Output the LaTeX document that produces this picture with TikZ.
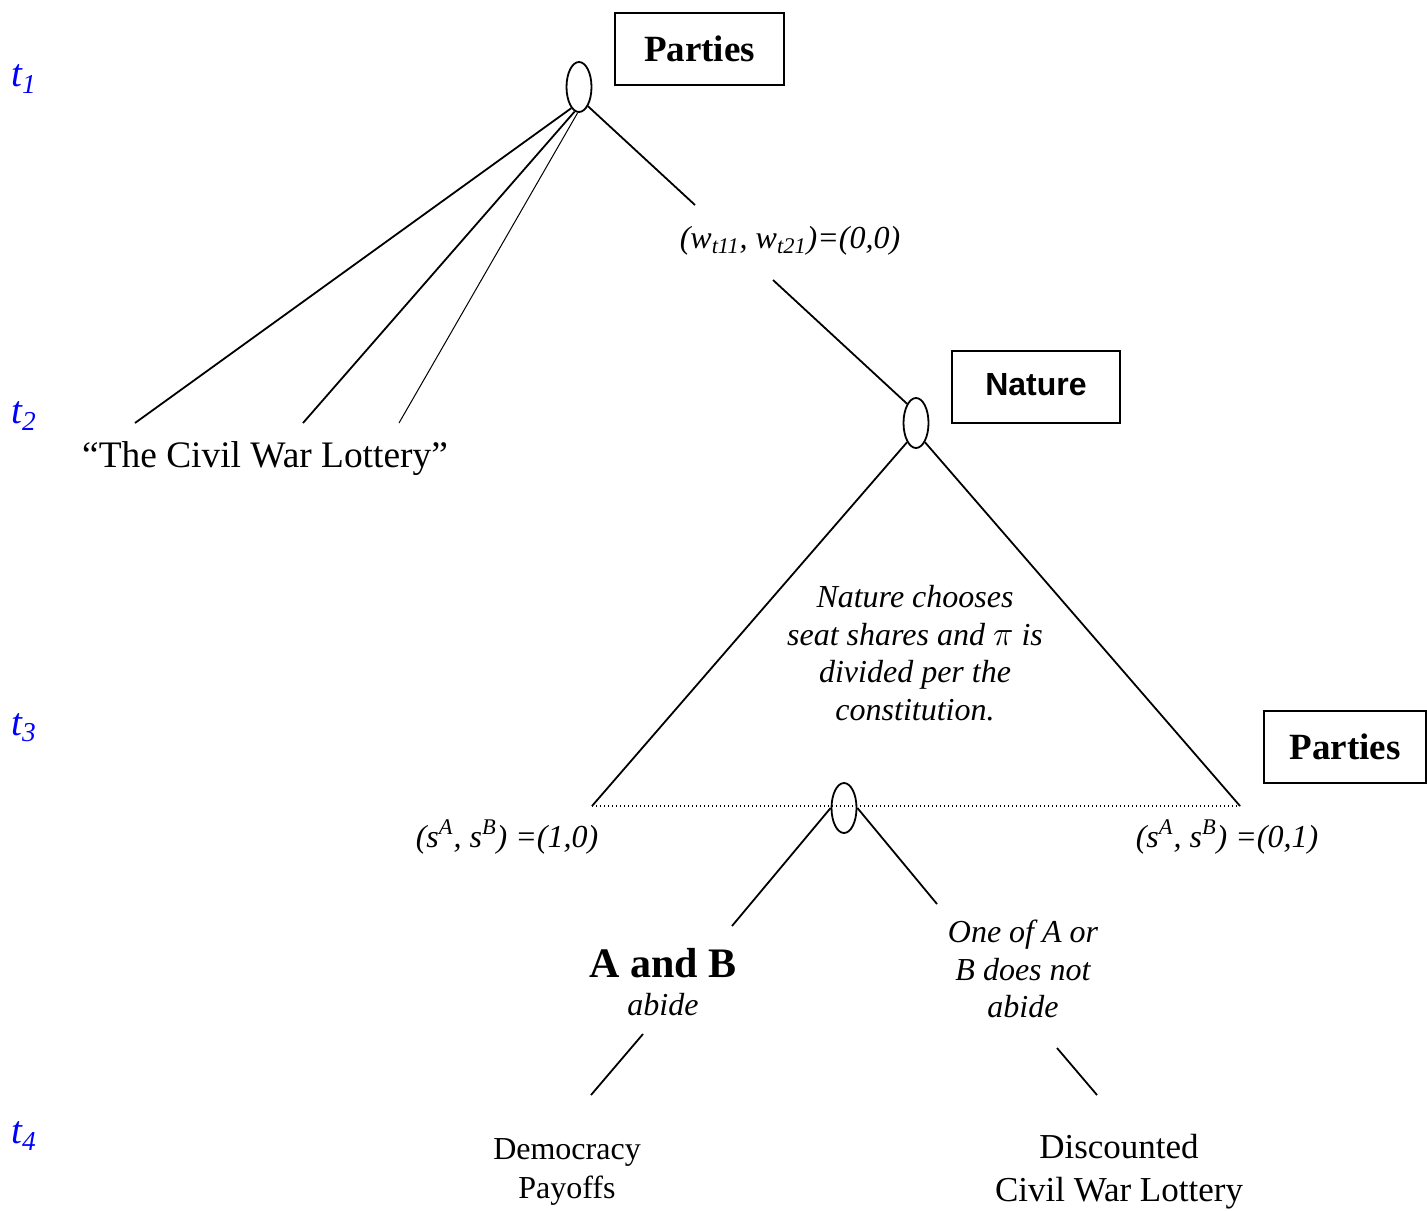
\documentclass[tikz,border=0pt]{standalone}
\usepackage{fontspec}
\setmainfont{Liberation Serif}
\newfontfamily\arialfont{Liberation Sans}
\usetikzlibrary{shapes.geometric}

\newcommand{\partyfont}{\fontsize{18.5}{22}\selectfont\bfseries}
\newcommand{\naturefont}{\arialfont\fontsize{16}{19}\selectfont\bfseries}
\newcommand{\abfont}{\fontsize{21}{24}\selectfont\bfseries}

\begin{document}
\begin{tikzpicture}[x=0.5pt, y=-0.5pt,
		choice/.style={draw, ellipse, line width=0.9pt, minimum width=12.5pt, minimum height=25pt, inner sep=0pt},
		mover/.style={draw, line width=0.9pt, minimum height=36pt, inner sep=0pt},
		edge/.style={line width=0.9pt},
		thinedge/.style={line width=0.5pt},
		infoset/.style={line width=0.7pt, dash pattern=on 0.7pt off 1.3pt},
		lab/.style={font=\fontsize{16}{18.75}\selectfont\itshape, align=center},
		plain/.style={font=\fontsize{16}{19.5}\selectfont, align=center},
		period/.style={text=blue, font=\fontsize{19.5}{22}\selectfont\itshape}]
		\useasboundingbox (0,0) rectangle (1427,1210);
		% time periods
		\foreach \y/\k in {79/1, 416/2, 728/3, 1136/4}
			\node[period] (t\k) at (24,\y) {t\textsubscript{\k}};
		% movers
		\node[mover, minimum width=84.5pt, font=\partyfont] (boxP1) at (699.5,49) {Parties};
		\node[mover, minimum width=84pt, font=\naturefont, text depth=3pt] (boxN) at (1036,387) {Nature};
		\node[mover, minimum width=81pt, font=\partyfont] (boxP2) at (1345,747) {Parties};
		% decision nodes
		\node[choice] (dec1) at (579,87) {};
		\node[choice] (dec2) at (916,423) {};
		\node[choice] (dec3) at (844,808) {};
		% free ends
		\coordinate (cw1) at (135,423);
		\coordinate (cw2) at (303,423);
		\coordinate (cw3) at (399,423);
		\coordinate (wTop) at (695,205);
		\coordinate (wBot) at (773,280);
		\coordinate (sL) at (592,806);
		\coordinate (sR) at (1240,806);
		\coordinate (abTop) at (732,926);
		\coordinate (nabTop) at (937,904);
		\coordinate (abLow) at (643,1034);
		\coordinate (demTop) at (591,1095);
		\coordinate (nabLow) at (1057,1048);
		\coordinate (discTop) at (1097,1095);
		% branches
		\draw[edge] (dec1.-110) -- (cw1);
		\draw[edge] (dec1.-100) -- (cw2);
		\draw[thinedge] (dec1.-93) -- (cw3);
		\draw[edge] (dec1.-65) -- (wTop);
		\draw[edge] (wBot) -- (dec2.115);
		\draw[edge] (dec2.-115) -- (sL);
		\draw[edge] (dec2.-65) -- (sR);
		\draw[infoset] (sL) -- (sR);
		\draw[edge] (dec3.west) -- (abTop);
		\draw[edge] (dec3.east) -- (nabTop);
		\draw[edge] (abLow) -- (demTop);
		\draw[edge] (nabLow) -- (discTop);
		% labels
		\node[plain, font=\fontsize{18.7}{22}\selectfont] (lottery) at (265,459) {``The Civil War Lottery''};
		\node[lab] (wlab) at (790,241) {(w\textsubscript{t11}, w\textsubscript{t21})=(0,0)};
		\node[lab] (natlab) at (915,653) {Nature chooses\\ seat shares and $\pi$ is\\ divided per the\\ constitution.};
		\node[lab] (sLlab) at (507,837) {(s\textsuperscript{A}, s\textsuperscript{B}) =(1,0)};
		\node[lab] (sRlab) at (1227,837) {(s\textsuperscript{A}, s\textsuperscript{B}) =(0,1)};
		\node[font=\abfont] (ab) at (663,963) {A and B};
		\node[lab] (abide) at (663,1005) {abide};
		\node[lab] (notabide) at (1023,969) {One of A or\\ B does not\\ abide};
		\node[plain] (demo) at (567,1172) {Democracy\\ Payoffs};
		\node[plain, font=\fontsize{17.5}{21.5}\selectfont] (disc) at (1119,1172) {Discounted\\ Civil War Lottery};
\end{tikzpicture}
\end{document}
